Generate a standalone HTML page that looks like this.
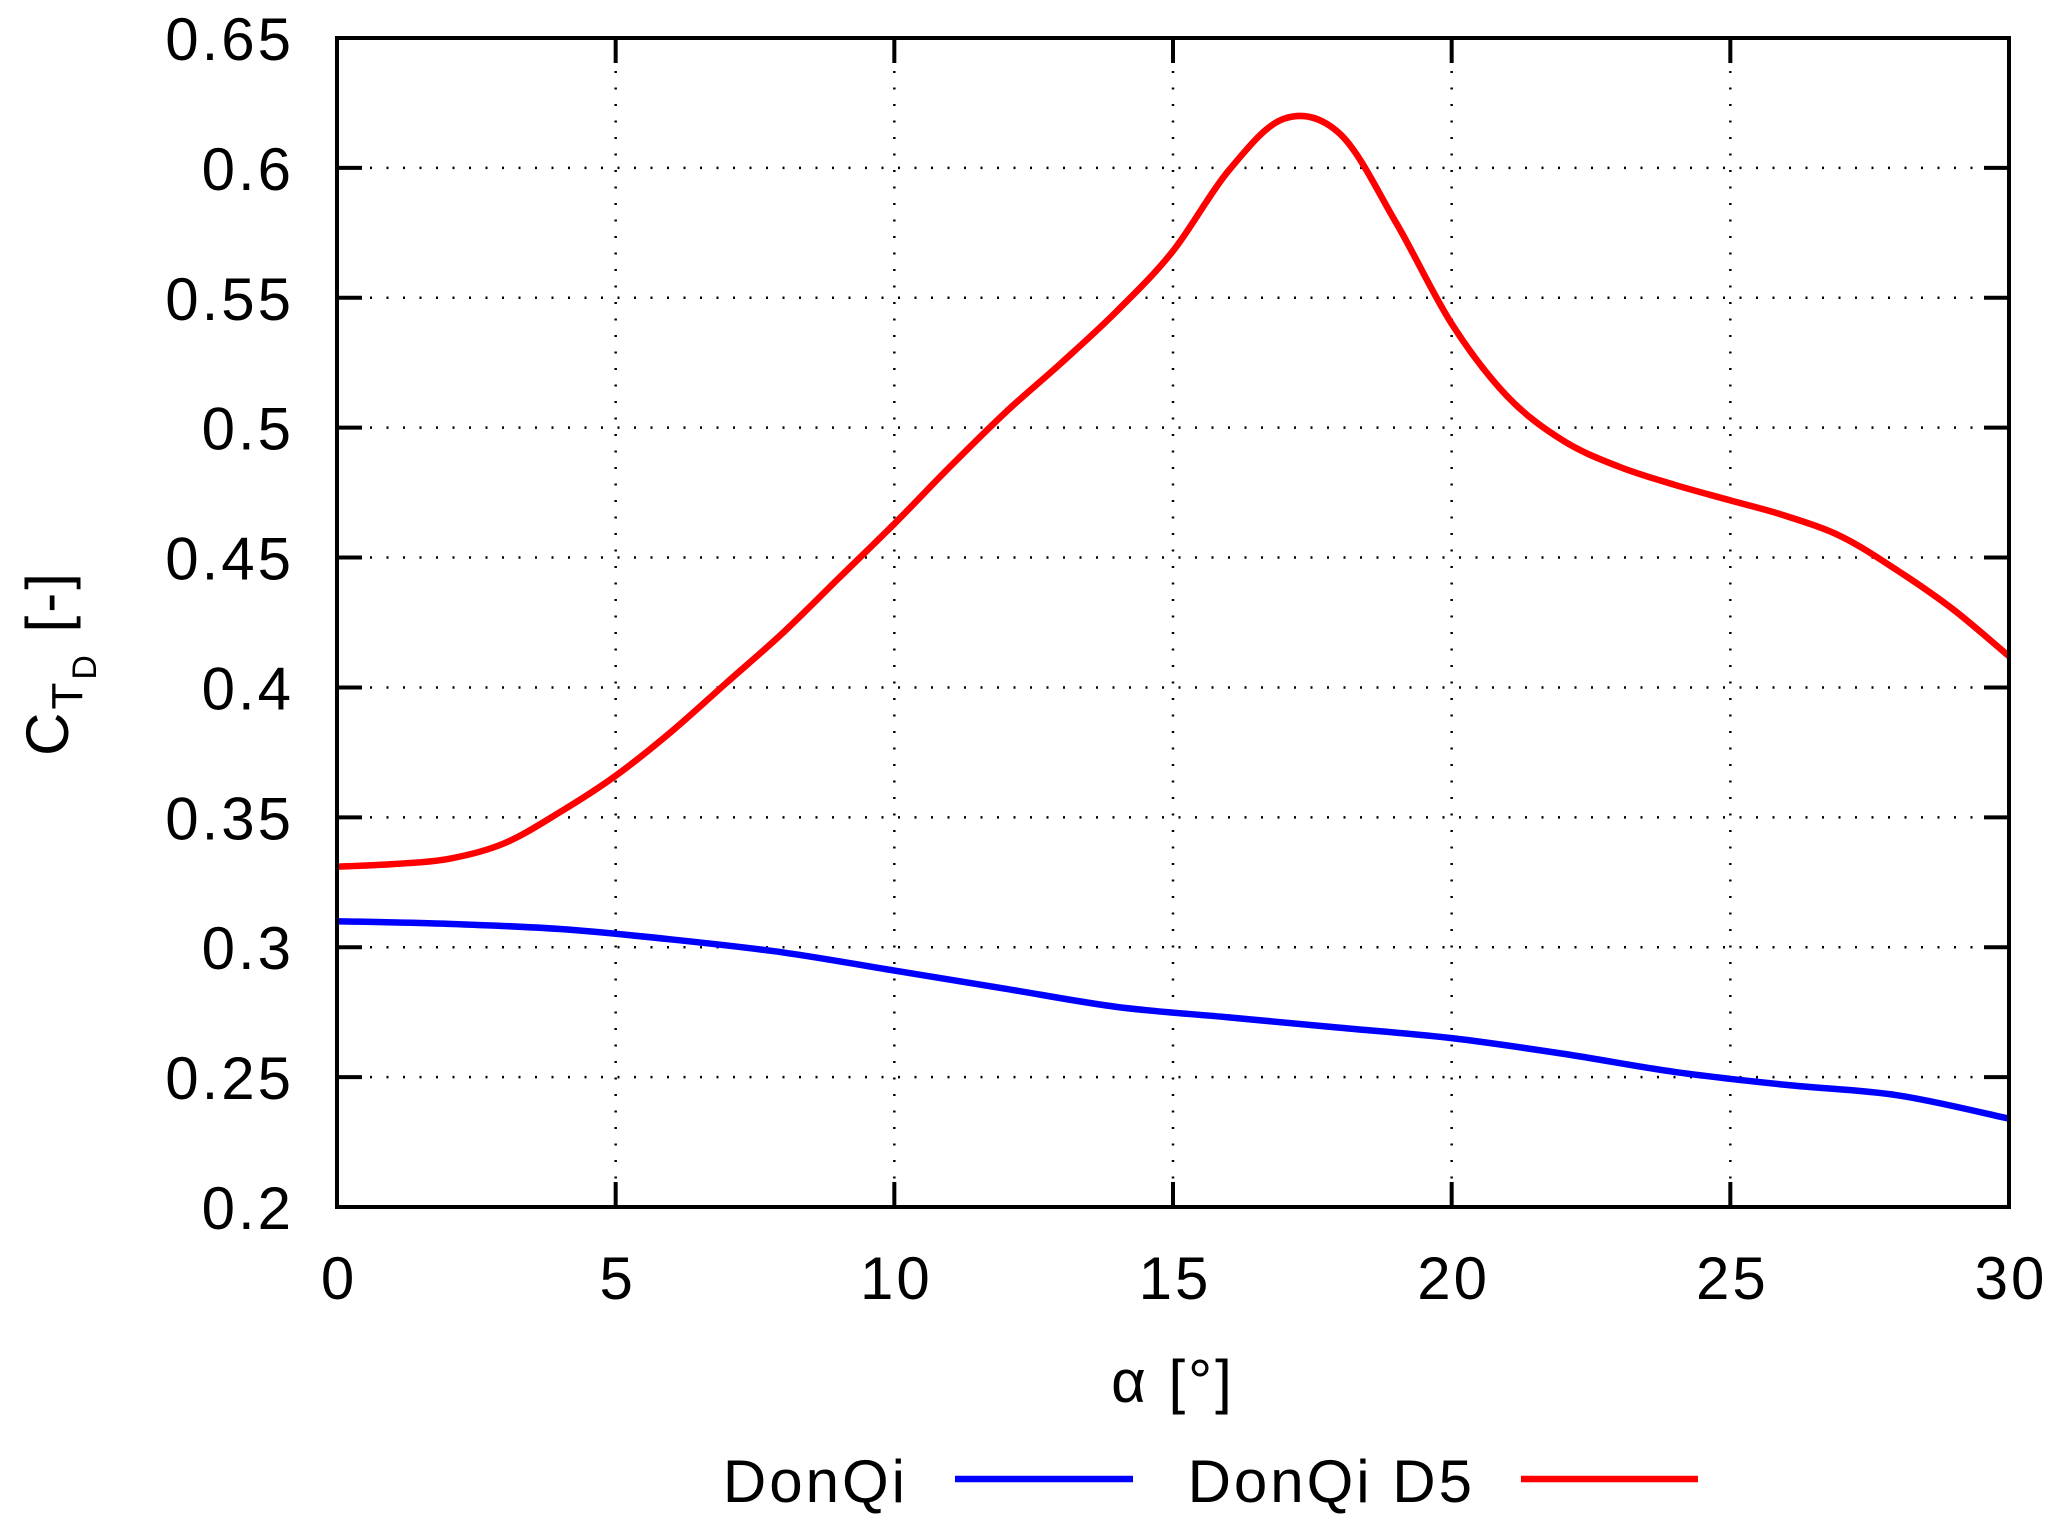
<!DOCTYPE html>
<html><head><meta charset="utf-8"><style>
html,body{margin:0;padding:0;background:#fff}
svg text{font-family:"Liberation Sans",sans-serif;fill:#000;letter-spacing:3px}
</style></head><body>
<svg id="c" width="2067" height="1524" viewBox="0 0 2067 1524" xmlns="http://www.w3.org/2000/svg">
<g id="grid"></g>
<g id="series"></g>
<rect x="337" y="38" width="1672" height="1169" fill="none" stroke="#000" stroke-width="4"/>
<g id="ticks"></g>
<text x="1173" y="1402" font-size="60" text-anchor="middle">α [°]</text>
<text transform="translate(68,663) rotate(-90)" font-size="60" text-anchor="middle">C<tspan font-size="44" dy="14">T</tspan><tspan font-size="34" dy="14">D</tspan><tspan dy="-28"> [-]</tspan></text>
<g>
<text x="908" y="1502" font-size="60" text-anchor="end">DonQi</text>
<line x1="955" y1="1479" x2="1133" y2="1479" stroke="#0000ff" stroke-width="6.5"/>
<text x="1475" y="1502" font-size="60" text-anchor="end">DonQi D5</text>
<line x1="1521" y1="1479" x2="1698" y2="1479" stroke="#ff0000" stroke-width="6.5"/>
</g>
</svg>
<script>
const xTicks=[0,5,10,15,20,25,30];
const yTicks=[0.2,0.25,0.3,0.35,0.4,0.45,0.5,0.55,0.6,0.65];
const yTickLabels=["0.2","0.25","0.3","0.35","0.4","0.45","0.5","0.55","0.6","0.65"];
const redX=[0,1,2,3,4,5,6,7,8,9,10,11,12,13,14,15,16,17,18,19,20,21,22,23,24,25,26,27,28,29,30];
const redY=[0.331,0.332,0.334,0.340,0.352,0.366,0.383,0.402,0.421,0.442,0.463,0.485,0.506,0.525,0.545,0.568,0.599,0.619,0.613,0.579,0.540,0.512,0.495,0.485,0.478,0.472,0.466,0.458,0.445,0.430,0.412];
const blueX=[0,2,4,6,8,10,12,14,16,18,20,22,24,26,28,30];
const blueY=[0.310,0.309,0.307,0.303,0.298,0.291,0.284,0.277,0.273,0.269,0.265,0.259,0.252,0.247,0.243,0.234];
const L=337,R=2009,T=38,B=1207;
const sx=v=>L+(v-0)/30*(R-L);
const sy=v=>B-(v-0.2)/0.45*(B-T);
const NS="http://www.w3.org/2000/svg";
const grid=document.getElementById('grid'),ticks=document.getElementById('ticks'),ser=document.getElementById('series');
function mk(tag,attrs,parent){const e=document.createElementNS(NS,tag);for(const k in attrs)e.setAttribute(k,attrs[k]);parent.appendChild(e);return e;}
xTicks.forEach((v,i)=>{
  const x=sx(v);
  if(i>0&&i<xTicks.length-1){
    const g=mk('line',{x1:x,y1:T,x2:x,y2:B,stroke:'#000','stroke-width':2.5,'stroke-dasharray':'2 14.5'},grid);
    
    
    const t=mk('line',{x1:x,y1:B,x2:x,y2:B-25,stroke:'#000','stroke-width':4},ticks);
    
    
    const t2=mk('line',{x1:x,y1:T,x2:x,y2:T+25,stroke:'#000','stroke-width':4},ticks);
    
    
  }
  const lb=mk('text',{x:x+2,y:1299,'font-size':60,'text-anchor':'middle'},ticks);
  lb.textContent=String(v);
  
  
});
yTicks.forEach((v,i)=>{
  const y=sy(v);
  if(i>0&&i<yTicks.length-1){
    const g=mk('line',{x1:L,y1:y,x2:R,y2:y,stroke:'#000','stroke-width':2.5,'stroke-dasharray':'2 14.5'},grid);
    
    
    const t=mk('line',{x1:L,y1:y,x2:L+25,y2:y,stroke:'#000','stroke-width':4},ticks);
    
    
    const t2=mk('line',{x1:R,y1:y,x2:R-25,y2:y,stroke:'#000','stroke-width':4},ticks);
    
    
  }
  const lb=mk('text',{x:294,y:y+22,'font-size':60,'text-anchor':'end'},ticks);
  lb.textContent=yTickLabels[i];
  
  
});
function path(xs,ys){
  const p=xs.map((x,i)=>[sx(x),sy(ys[i])]);
  let d='M'+p[0][0]+','+p[0][1];
  for(let i=0;i<p.length-1;i++){
    const p0=p[Math.max(i-1,0)],p1=p[i],p2=p[i+1],p3=p[Math.min(i+2,p.length-1)];
    const c1=[p1[0]+(p2[0]-p0[0])/6,p1[1]+(p2[1]-p0[1])/6];
    const c2=[p2[0]-(p3[0]-p1[0])/6,p2[1]-(p3[1]-p1[1])/6];
    d+=' C'+c1+' '+c2+' '+p2;
  }
  return d;
}
const b=mk('path',{d:path(blueX,blueY),fill:'none',stroke:'#0000ff','stroke-width':6.5,'stroke-linejoin':'round'},ser);


const r=mk('path',{d:path(redX,redY),fill:'none',stroke:'#ff0000','stroke-width':6.5,'stroke-linejoin':'round'},ser);


</script>
</body></html>
